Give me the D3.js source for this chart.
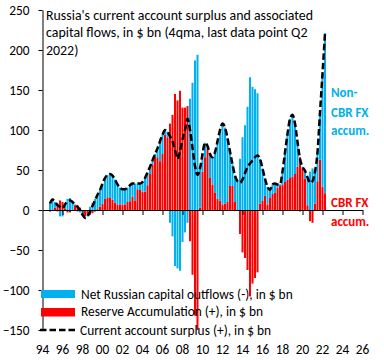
<!DOCTYPE html>
<html>
<head>
<meta charset="utf-8">
<script src="https://cdn.jsdelivr.net/npm/d3@7"></script>
<style>
  body { margin: 0; background: #fff; }
  svg { display: block; }
  text { font-family: Carlito, Calibri, Lato, sans-serif; }
</style>
</head>
<body>
<svg id="chart" width="384" height="360"></svg>
<script>
// ---------- data (4-quarter moving sums, $ bn), first quarter 1994Q4 ----------
const firstYear = 1994, firstQ = 4, nQuarters = 111;
const quarters = d3.range(nQuarters).map(k => {
  const idx = (firstQ - 1) + k;
  return (firstYear + Math.floor(idx / 4)) + "Q" + (idx % 4 + 1);
});

const currentAccount = [
  8,13,10,6,4,2,7,11,12,10,
  7,4,0,-6,-10,-8,-2,5,12,19,
  25,33,40,44,45,43,38,32,28,26,
  26,28,31,33,33,33,33,35,40,47,
  54,62,70,77,86,94,100,98,92,86,
  75,64,73,88,100,114,100,78,55,44,
  52,70,84,80,70,66,72,86,100,108,
  103,90,73,57,43,36,34,38,46,54,
  58,62,66,68,64,52,39,29,25,32,
  33,32,32,48,72,95,114,119,108,85,
  64,54,49,41,34,36,48,72,122,170,221
];

const reserves = [
  -2,-1,3,8,12,10,2,-3,-3,0,
  6,6,3,-2,-8,-6,-6,-4,-2,1,
  4,8,14,16,15,13,9,7,7,7,
  7,10,11,17,12,26,25,23,23,31,
  45,57,67,66,61,70,94,91,108,119,
  145,137,149,128,128,130,-39,-81,-132,-150,
  3,48,66,76,40,32,22,14,12,7,
  8,10,30,30,10,0,-30,-53,-60,-75,
  -108,-92,-85,-78,8,12,18,7,15,20,
  22,28,30,32,35,38,40,42,45,54,
  66,52,39,6,-14,-16,8,36,63,29,21
];

const capitalOutflows = [
  10,14,7,-2,-8,-8,5,14,15,10,
  1,-2,-3,-4,-2,-2,4,9,14,18,
  21,25,26,28,30,30,29,25,21,19,
  19,18,20,16,21,7,8,12,17,16,
  9,5,3,11,25,24,6,7,-16,-33,
  -70,-73,-76,-40,-28,-16,139,159,187,194,
  49,22,18,4,30,34,50,72,88,101,
  95,80,43,27,33,36,64,91,106,129,
  166,154,151,146,56,40,21,22,10,12,
  11,4,2,16,37,57,74,77,63,31,
  -2,2,10,35,48,52,40,36,59,141,200
];

const yTicks = [-150, -100, -50, 0, 50, 100, 150, 200, 250];
const xTickYears = [1994,1996,1998,2000,2002,2004,2006,2008,2010,2012,2014,2016,2018,2020,2022,2024,2026];
const xTickLabels = ["94","96","98","00","02","04","06","08","10","12","14","16","18","20","22","24","26"];

const titleLines = [
  "Russia's current account surplus and associated",
  "capital flows, in $ bn (4qma, last data point Q2",
  "2022)"
];
const legendLabels = [
  "Net Russian capital outflows (-), in $ bn",
  "Reserve Accumulation (+), in $ bn",
  "Current account surplus (+), in $ bn"
];

// ---------- drawing ----------
const BLUE = "#00B0F0", RED = "#FF0000";
const svg = d3.select("#chart");
const x = d3.scaleLinear().domain([1994, 2026]).range([42.5, 362.5]);
const y = d3.scaleLinear().domain([-150, 250]).range([330, 10]);
const tOf = q => +q.slice(0, 4) + (+q.slice(5) - 1) / 4;

const data = quarters.map((q, i) => ({
  t: tOf(q), ca: currentAccount[i], r: reserves[i], k: capitalOutflows[i]
}));

const barW = 2;
// red series (first in stack)
svg.append("g").selectAll("rect").data(data).join("rect")
  .attr("x", d => x(d.t) - barW / 2)
  .attr("width", barW)
  .attr("y", d => y(Math.max(0, d.r)))
  .attr("height", d => Math.abs(y(d.r) - y(0)))
  .attr("fill", RED);

// blue series stacked on red when same sign
svg.append("g").selectAll("rect").data(data).join("rect")
  .attr("x", d => x(d.t) - barW / 2)
  .attr("width", barW)
  .attr("y", d => {
    const base = (d.k >= 0) === (d.r >= 0) ? d.r : 0;
    return y(Math.max(base, base + d.k));
  })
  .attr("height", d => Math.abs(y(d.k) - y(0)))
  .attr("fill", BLUE);

// axes
const yAxis = svg.append("g")
  .attr("transform", "translate(42.5,0)")
  .call(d3.axisLeft(y).tickValues(yTicks).tickSize(4).tickSizeOuter(0).tickPadding(9));
yAxis.selectAll("text").attr("font-size", 13.3).attr("fill", "#000")
  .style("font-family", "Carlito, Calibri, Lato, sans-serif");
yAxis.selectAll("line,path").attr("stroke", "#000");

const xAxis = svg.append("g")
  .attr("transform", `translate(0,${y(0)})`)
  .call(d3.axisBottom(x).tickValues(xTickYears.slice(1)).tickSize(5).tickSizeOuter(0).tickFormat(""));
xAxis.selectAll("line,path").attr("stroke", "#000");

svg.append("g").selectAll("text").data(xTickYears).join("text")
  .attr("x", d => x(d))
  .attr("y", 354)
  .attr("text-anchor", "middle")
  .attr("font-size", 13.3)
  .text((d, i) => xTickLabels[i]);

// current account dashed line
svg.append("path")
  .datum(data)
  .attr("fill", "none")
  .attr("stroke", "#000")
  .attr("stroke-width", 2.5)
  .attr("stroke-dasharray", "6.5,3")
  .attr("d", d3.line().x(d => x(d.t)).y(d => y(d.ca)).curve(d3.curveMonotoneX));

// title
svg.append("g").selectAll("text").data(titleLines).join("text")
  .attr("x", 46)
  .attr("y", (d, i) => 19.5 + i * 17.7)
  .attr("font-size", 13.9)
  .text(d => d);

// legend
const lg = svg.append("g");
lg.append("rect").attr("x", 41).attr("y", 290).attr("width", 34).attr("height", 8).attr("fill", BLUE);
lg.append("rect").attr("x", 41).attr("y", 308).attr("width", 34).attr("height", 8.5).attr("fill", RED);
lg.append("line").attr("x1", 40).attr("x2", 76).attr("y1", 330).attr("y2", 330)
  .attr("stroke", "#000").attr("stroke-width", 2.5).attr("stroke-dasharray", "6.5,3");
lg.selectAll("text").data(legendLabels).join("text")
  .attr("x", (d, i) => i === 2 ? 80 : 81)
  .attr("y", (d, i) => [298.5, 316, 334.5][i])
  .attr("font-size", 13.4)
  .text(d => d);

// annotations
const ann = [
  {t: "Non-", yy: 97, c: BLUE},
  {t: "CBR FX", yy: 116.5, c: BLUE},
  {t: "accum.", yy: 135, c: BLUE},
  {t: "CBR FX", yy: 207, c: RED},
  {t: "accum.", yy: 226, c: RED}
];
svg.append("g").selectAll("text").data(ann).join("text")
  .attr("x", 331)
  .attr("y", d => d.yy)
  .attr("font-size", 13)
  .attr("font-weight", "bold")
  .attr("fill", d => d.c)
  .text(d => d.t);
</script>
</body>
</html>
